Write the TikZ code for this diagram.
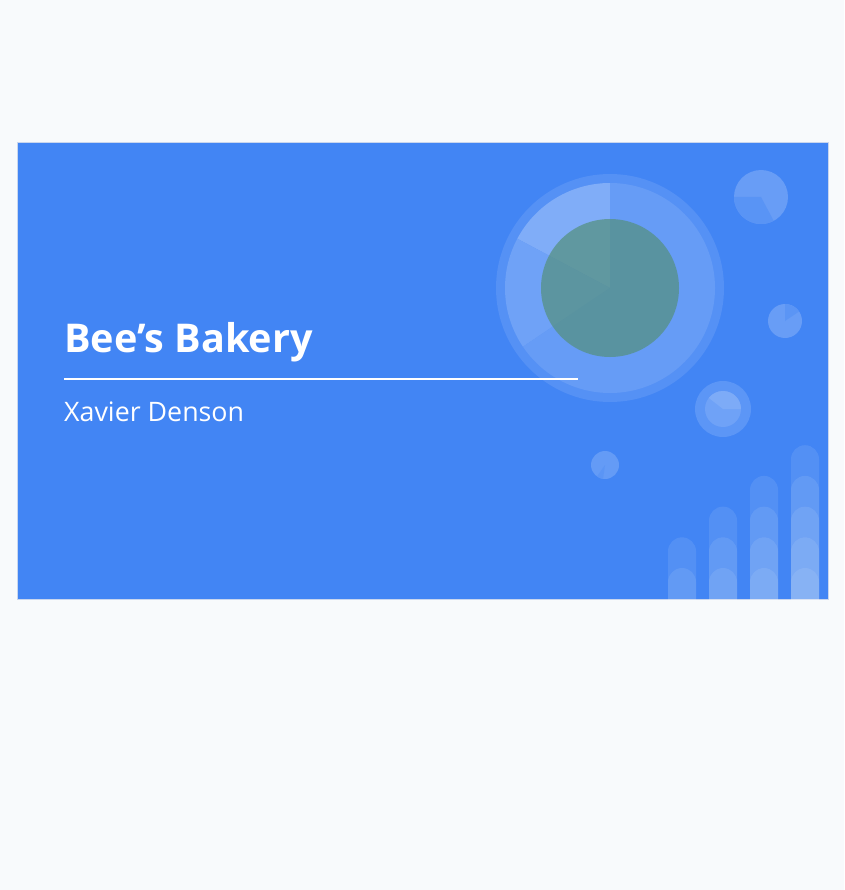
\documentclass[tikz,border=0pt]{standalone}
\usepackage{fontspec}
\setmainfont{Open Sans}
\usepackage{tikz}
\usetikzlibrary{positioning}
\usetikzlibrary{calc}
\definecolor{pagebg}{HTML}{F8FAFC}
\definecolor{slideblue}{HTML}{4285F4}
\definecolor{slideedge}{HTML}{C9D6EE}
\definecolor{piegreen}{HTML}{55907F}
\tikzstyle{slide}=[fill=slideblue,draw=slideedge,line width=1pt]
\tikzstyle{titletext}=[anchor=base west,inner sep=0pt,text=white,font=\fontsize{39.6}{48}\selectfont\bfseries]
\tikzstyle{subtext}=[anchor=base west,inner sep=0pt,text=white,font=\fontsize{26.8}{32}\selectfont]
\tikzstyle{rule}=[draw=white,line width=1.6pt]
\tikzstyle{bar}=[fill=white,fill opacity=0.09]
\tikzset{dot/.style={fill=white!#1!slideblue}}

\begin{document}
\begin{tikzpicture}[x=1pt,y=-1pt]

  \useasboundingbox[fill=pagebg] (0,0) rectangle (844,890);
  \path[slide] (17.5,143) rectangle (828,599);

  % big pie
  \coordinate (pie) at (610,288);
  \fill[dot=10] (pie) circle (114);
  \foreach \a/\b/\c in {-90/-152/33, -152/-214/24, -214/-450/19}
     \fill[dot=\c] (pie) -- ++(\a:105) arc (\a:\b:105) -- cycle;
  \fill[piegreen,fill opacity=0.72] (pie) circle (69);

  % small pies
  \coordinate (dotA) at (761,197);
  \fill[dot=20] (dotA) circle (27);
  \fill[dot=12] (dotA) -- ++(-180:27) arc (-180:-298:27) -- cycle;

  \coordinate (dotB) at (785,321);
  \fill[dot=20] (dotB) circle (17);
  \fill[dot=13] (dotB) -- ++(-34:17) arc (-34:-90:17) -- cycle;

  \coordinate (dotC) at (723,409);
  \fill[dot=14] (dotC) circle (28);
  \fill[dot=24] (dotC) circle (18);
  \fill[dot=31] (dotC) -- ++(0:18) arc (0:-142:18) -- cycle;

  \coordinate (dotD) at (605,465);
  \fill[dot=18] (dotD) circle (14);
  \fill[dot=13] (dotD) -- ++(-235:14) arc (-235:-262:14) -- cycle;

  % bars
  \begin{scope}
    \clip (17.5,143) rectangle (828,599);
    \foreach \x/\n in {682/1, 723/2, 764/3, 805/4}
      \foreach \k in {0,...,\n}
        \fill[bar] (\x-14,600) -- (\x-14,568-30.7*\k+14) arc (180:360:14) -- (\x+14,600) -- cycle;
  \end{scope}

  % texts
  \node[titletext] (title) at (64,352) {Bee’s Bakery};
  \coordinate (ruleL) at (64,379);
  \coordinate (ruleR) at (578,379);
  \path[rule] (ruleL) -- (ruleR);
  \node[subtext] (author) at (64,421) {Xavier Denson};

\end{tikzpicture}
\end{document}
